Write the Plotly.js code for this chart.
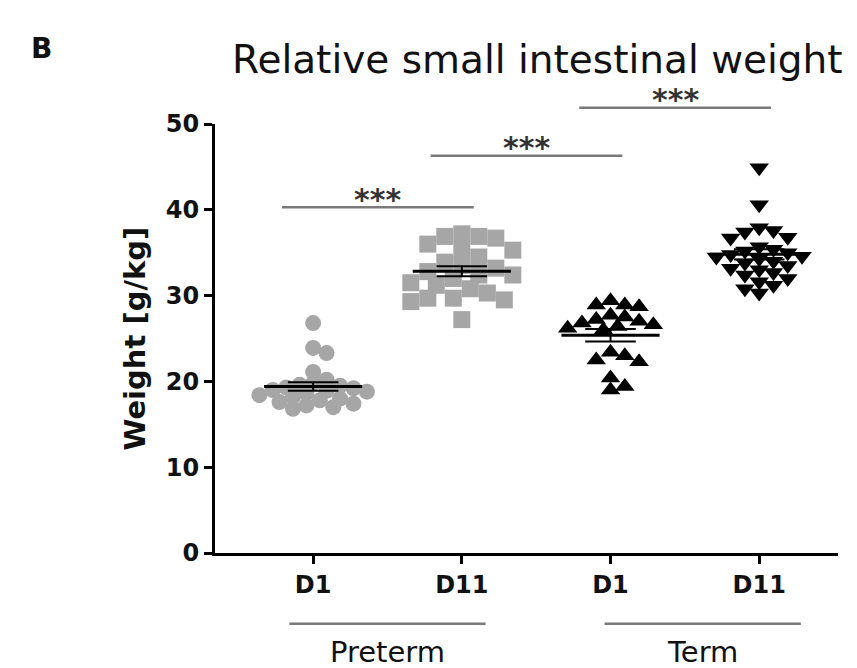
<!DOCTYPE html>
<html><head><meta charset="utf-8">
<script src="https://cdn.plot.ly/plotly-3.0.1.min.js"></script>
<style>html,body{margin:0;padding:0;background:#fff}</style>
</head><body>
<div id="chart" style="width:857px;height:668px"></div>
<script>
// ---- data ----
const tickLabels = ['D1', 'D11', 'D1', 'D11'];
const groupNames = ['Preterm', 'Term'];
const groupCenters = [0.5, 2.62];
const pretermD1 = [26.8, 23.9, 23.3, 21.1, 20.2, 19.8, 19.6, 19.5, 19.3, 19.0, 18.8, 18.6, 18.4, 18.2, 18.0, 17.8, 17.6, 17.4, 17.2, 17.0, 16.8, 19.2, 18.9];
const pretermD11 = [37.2, 36.9, 36.9, 36.7, 36.0, 35.3, 35.3, 34.5, 33.9, 33.5, 33.2, 32.8, 32.4, 32.4, 32.0, 31.5, 31.2, 30.8, 30.3, 29.7, 29.7, 29.5, 29.3, 27.2];
const termD1 = [29.4, 28.9, 28.9, 28.7, 27.7, 27.5, 27.2, 27.0, 26.8, 26.6, 26.4, 26.2, 26.0, 23.4, 23.0, 22.5, 22.3, 20.4, 19.4, 19.0];
const termD11 = [44.9, 40.6, 37.9, 37.6, 37.4, 36.8, 36.7, 35.7, 35.4, 35.0, 34.8, 34.5, 34.3, 34.0, 33.8, 33.5, 33.2, 33.0, 32.7, 32.4, 32.0, 31.6, 31.2, 30.8, 30.3, 34.6, 35.2];
const sigPairs = [[0, 1], [1, 2], [2, 3]];
const sigLevels = [40.3, 46.3, 51.9];
const sigLabels = ['***', '***', '***'];

// ---- layout geometry ----
const W = 857, H = 668;
const M = {l: 215, r: 19, t: 124, b: 115};
const xr = [-0.66, 3.53], yr = [0, 50];
const pxX = (W - M.l - M.r) / (xr[1] - xr[0]);
const pxY = (H - M.t - M.b) / (yr[1] - yr[0]);
const FONT = 'DejaVu Sans';

function swarm(vals, diam, minF, stepF) {
  const order = vals.map((v, i) => i).sort((a, b) => vals[b] - vals[a]);
  const placed = [];
  const off = new Array(vals.length).fill(0);
  const step = diam * stepF;
  const minD = diam * minF;
  for (const i of order) {
    const y = vals[i] * pxY;
    for (let k = 0; k < 80; k++) {
      const cand = k === 0 ? 0 : (k % 2 ? 1 : -1) * Math.ceil(k / 2) * step;
      if (placed.every(p => Math.hypot(p.x - cand, p.y - y) >= minD)) {
        off[i] = cand; placed.push({x: cand, y: y}); break;
      }
    }
  }
  return off.map(o => o / pxX);
}
const mean = a => a.reduce((s, v) => s + v, 0) / a.length;
const sem = a => { const m = mean(a); return Math.sqrt(a.reduce((s, v) => s + (v - m) * (v - m), 0) / (a.length - 1) / a.length); };

const groups = [
  {vals: pretermD1, sym: 'circle', color: '#a6a6a6', size: 16, minF: 0.66, stepF: 0.42},
  {vals: pretermD11, sym: 'square', color: '#a6a6a6', size: 17, minF: 0.88, stepF: 0.5},
  {vals: termD1, sym: 'triangle-up', color: '#000000', size: 17, minF: 0.66, stepF: 0.42},
  {vals: termD11, sym: 'triangle-down', color: '#000000', size: 17, minF: 0.62, stepF: 0.42}
];

const traces = [];
groups.forEach((g, i) => {
  const offs = swarm(g.vals, g.size, g.minF, g.stepF);
  traces.push({
    type: 'scatter', mode: 'markers',
    x: offs.map(o => i + o), y: g.vals,
    marker: {symbol: g.sym, color: g.color, size: g.size, line: {width: 0}},
    cliponaxis: false, hoverinfo: 'y', showlegend: false
  });
});
groups.forEach((g, i) => {
  const m = mean(g.vals), s = sem(g.vals);
  traces.push({type: 'scatter', mode: 'lines', x: [i - 0.33, i + 0.33], y: [m, m],
    line: {color: '#000', width: 3}, showlegend: false, hoverinfo: 'skip'});
  traces.push({type: 'scatter', mode: 'lines',
    x: [i - 0.17, i + 0.17, null, i - 0.17, i + 0.17, null, i, i],
    y: [m + s, m + s, null, m - s, m - s, null, m - s, m + s],
    line: {color: '#000', width: 2}, showlegend: false, hoverinfo: 'skip'});
});

const shapes = [];
const annotations = [];
sigPairs.forEach((p, k) => {
  const yp = (sigLevels[k] - yr[0]) / (yr[1] - yr[0]);
  shapes.push({type: 'line', xref: 'x', yref: 'paper', x0: p[0] - 0.21, x1: p[1] + 0.08, y0: yp, y1: yp,
    line: {color: '#7a7a7a', width: 2.5}});
  annotations.push({xref: 'x', yref: 'paper', x: (p[0] + p[1]) / 2 - 0.065, y: yp, yanchor: 'middle', yshift: 8,
    text: sigLabels[k], showarrow: false, font: {family: FONT, size: 30, color: '#333', weight: 'bold'}});
});
groupNames.forEach((n, k) => {
  shapes.push({type: 'line', xref: 'x', yref: 'paper', x0: groupCenters[k] - 0.66, x1: groupCenters[k] + 0.66,
    y0: -0.165, y1: -0.165, line: {color: '#7a7a7a', width: 2.5}});
  annotations.push({xref: 'x', yref: 'paper', x: groupCenters[k], y: -0.23, yanchor: 'middle',
    text: n, showarrow: false, font: {family: FONT, size: 29, color: '#111'}});
});
annotations.push({xref: 'paper', yref: 'paper', x: -0.278, y: 1.177, xanchor: 'center', yanchor: 'middle', text: 'B', showarrow: false,
  font: {family: FONT, size: 28, color: '#111', weight: 'bold'}});
annotations.push({xref: 'paper', yref: 'paper', x: 0, xshift: -81, xanchor: 'center', y: 0.5, yanchor: 'middle', textangle: -90,
  text: 'Weight [g/kg]', showarrow: false, font: {family: FONT, size: 29, color: '#111', weight: 'bold'}});

const layout = {
  width: W, height: H, margin: M,
  paper_bgcolor: '#fff', plot_bgcolor: '#fff',
  title: {text: 'Relative small intestinal weight', x: 0.627, xref: 'container', xanchor: 'center',
    y: 0.911, yref: 'container', yanchor: 'middle', font: {family: FONT, size: 39, color: '#111'}},
  xaxis: {range: xr, tickvals: [0, 1, 2, 3], ticktext: tickLabels, showline: true, linecolor: '#000', linewidth: 3,
    ticks: 'outside', ticklen: 8, tickwidth: 3, tickcolor: '#000', showgrid: false, zeroline: false,
    tickfont: {family: FONT, size: 24, color: '#111', weight: 'bold'}},
  yaxis: {range: yr, tickvals: [0, 10, 20, 30, 40, 50], showline: true, linecolor: '#000', linewidth: 3,
    ticks: 'outside', ticklen: 8, tickwidth: 3, tickcolor: '#000', showgrid: false, zeroline: false,
    tickfont: {family: FONT, size: 24, color: '#111', weight: 'bold'}},
  shapes: shapes, annotations: annotations, showlegend: false
};
Plotly.newPlot('chart', traces, layout, {staticPlot: true});
</script>
</body></html>
